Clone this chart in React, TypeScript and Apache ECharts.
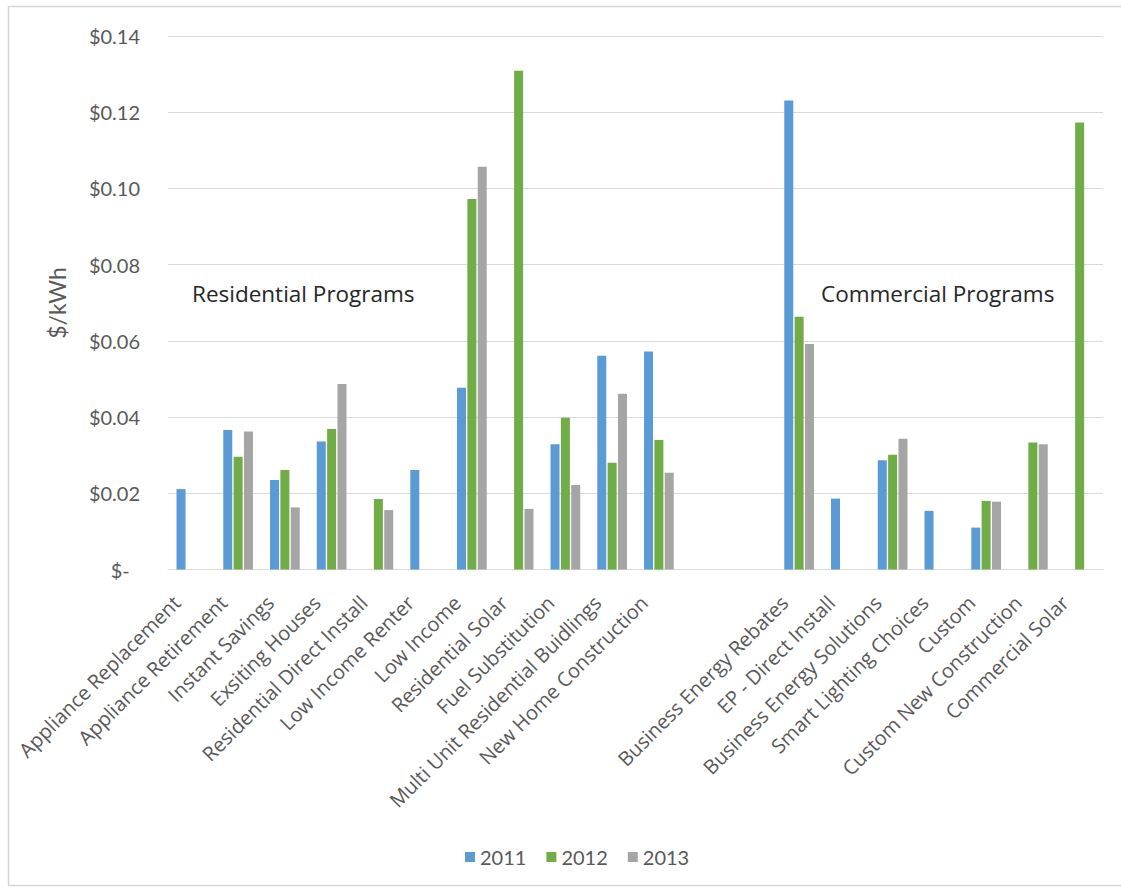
import React, { useEffect, useRef } from "react";
import * as echarts from "echarts";

// Program categories; the two empty entries separate residential from commercial programs
const categories = [
  "Appliance Replacement",
  "Appliance Retirement",
  "Instant Savings",
  "Exsiting Houses",
  "Residential Direct Install",
  "Low Income Renter",
  "Low Income",
  "Residential Solar",
  "Fuel Substitution",
  "Multi Unit Residential Buidlings",
  "New Home Construction",
  "",
  "",
  "Business Energy Rebates",
  "EP - Direct Install",
  "Business Energy Solutions",
  "Smart Lighting Choices",
  "Custom",
  "Custom New Construction",
  "Commercial Solar",
];

// Cost per kWh saved, by program year
const values2011 = [
  0.0211, 0.0366, 0.0235, 0.0336, null, 0.0261, 0.0477, null, 0.0329, 0.0561, 0.0572,
  null, null,
  0.1231, 0.0186, 0.0287, 0.0154, 0.011, null, null,
];
const values2012 = [
  null, 0.0296, 0.0261, 0.0369, 0.0185, null, 0.0972, 0.1309, 0.0398, 0.028, 0.034,
  null, null,
  0.0663, null, 0.0301, null, 0.018, 0.0333, 0.1173,
];
const values2013 = [
  null, 0.0362, 0.0163, 0.0487, 0.0156, null, 0.1057, 0.0159, 0.0222, 0.0461, 0.0254,
  null, null,
  0.0592, null, 0.0343, null, 0.0178, 0.0329, null,
];

const seriesNames = ["2011", "2012", "2013"];
const seriesColors = ["#5B9BD5", "#70AD47", "#A5A5A5"];

const yTicks = { min: 0, max: 0.14, interval: 0.02 };

const FONT = "Lato, 'Open Sans', sans-serif";
const WIDE_FONT = "'Open Sans', Lato, sans-serif";

export default function App() {
  const ref = useRef<HTMLDivElement>(null);

  useEffect(() => {
    if (!ref.current) return;
    const chart = echarts.init(ref.current, undefined, { renderer: "svg" });
    const seriesData = [values2011, values2012, values2013];

    chart.setOption({
      animation: false,
      backgroundColor: "#ffffff",
      textStyle: { fontFamily: FONT },
      grid: { left: 168, right: 18, top: 36, bottom: 318.5, containLabel: false },
      legend: {
        left: 460,
        top: 842,
        itemWidth: 10,
        itemHeight: 10,
        itemGap: 20,
        icon: "rect",
        textStyle: { fontFamily: FONT, fontSize: 20, color: "#595959" },
        data: seriesNames,
      },
      xAxis: {
        type: "category",
        data: categories,
        axisLine: { lineStyle: { color: "#d9d9d9", width: 1 } },
        axisTick: { show: false },
        axisLabel: {
          interval: 0,
          rotate: 45,
          margin: 15,
          fontFamily: WIDE_FONT,
          fontSize: 20,
          color: "#595959",
          formatter: (v: string) => (v ? v + "\u00a0\u00a0\u00a0\u00a0" : ""),
        },
      },
      yAxis: {
        type: "value",
        min: yTicks.min,
        max: yTicks.max,
        interval: yTicks.interval,
        axisLine: { show: false },
        axisTick: { show: false },
        splitLine: { lineStyle: { color: "#d9d9d9", width: 1 } },
        axisLabel: {
          margin: 28,
          fontFamily: FONT,
          fontSize: 20,
          color: "#595959",
          formatter: (v: number) => (v === 0 ? "$-\u00a0\u00a0" : "$" + v.toFixed(2)),
        },
      },
      series: seriesNames.map((name, i) => ({
        name,
        type: "bar",
        data: seriesData[i],
        barWidth: 9,
        barGap: "15%",
        itemStyle: { color: seriesColors[i] },
      })),
      graphic: [
        {
          type: "rect",
          silent: true,
          shape: { x: 8.5, y: 6.5, width: 1125, height: 879 },
          style: { fill: "none", stroke: "#d6d6d6", lineWidth: 1.5 },
        },
        {
          // value axis title, rotated to read bottom-to-top
          type: "text",
          x: 57,
          y: 303,
          rotation: Math.PI / 2,
          style: {
            text: "$/kWh",
            fontFamily: FONT,
            fontSize: 23,
            fill: "#595959",
            align: "center",
            verticalAlign: "middle",
          },
        },
        {
          type: "text",
          left: 192,
          top: 282,
          style: {
            text: "Residential Programs",
            fontFamily: WIDE_FONT,
            fontSize: 22.5,
            fill: "#262626",
          },
        },
        {
          type: "text",
          left: 821,
          top: 282,
          style: {
            text: "Commercial Programs",
            fontFamily: WIDE_FONT,
            fontSize: 22.5,
            fill: "#262626",
          },
        },
      ],
    });

    return () => chart.dispose();
  }, []);

  return (
    <div
      ref={ref}
      style={{ position: "fixed", left: 0, top: 0, width: 1121, height: 888 }}
    />
  );
}
